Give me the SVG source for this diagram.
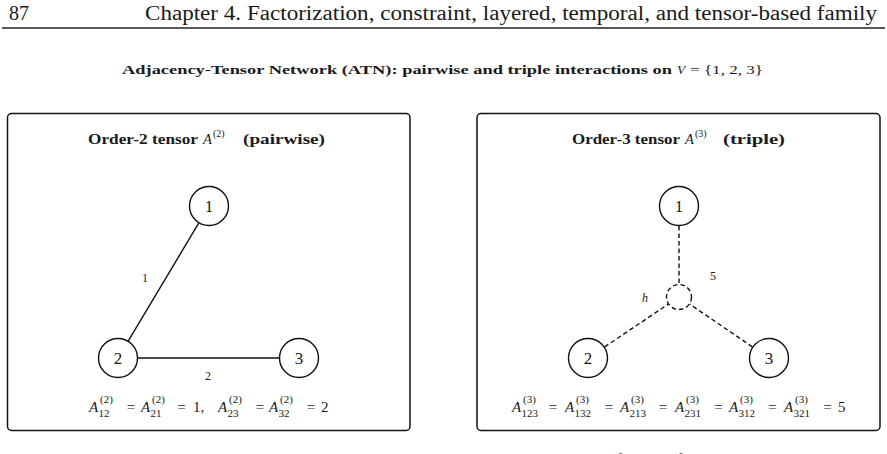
<svg xmlns="http://www.w3.org/2000/svg" width="887" height="454" viewBox="0 0 887 454">
<style>
text{font-family:"Liberation Serif","DejaVu Serif",serif;fill:#1a1a1a}
.hdr{font-size:20px}
.ttl{font-size:13px;font-weight:bold}
.bt{font-size:14.5px;font-weight:bold}
.it{font-style:italic}
.m{font-size:15px}
.s{font-size:11px}
.nl{font-size:17px;text-anchor:middle}
.el{font-size:12px;text-anchor:middle}
.eq{font-size:15px;text-anchor:middle}
.box{fill:none;stroke:#111;stroke-width:1.5}
.node{fill:#fff;stroke:#111;stroke-width:1.4}
.e{stroke:#111;stroke-width:1.4;fill:none}
.d{stroke:#111;stroke-width:1.4;fill:none;stroke-dasharray:4.5 3}
</style>
<rect width="887" height="454" fill="#fff"/>
<g id="header">
<text class="hdr" x="9" y="20">87</text>
<text class="hdr" x="145" y="20" textLength="732" lengthAdjust="spacingAndGlyphs">Chapter 4.  Factorization, constraint, layered, temporal, and tensor-based family</text>
<line x1="2" y1="28" x2="885" y2="28" stroke="#222" stroke-width="1.3"/>
</g>
<g id="title">
<text class="ttl" x="122" y="74" textLength="550" lengthAdjust="spacingAndGlyphs">Adjacency-Tensor Network (ATN): pairwise and triple interactions on</text>
<text class="it" x="677" y="74" font-size="13.5">V</text>
<text x="690" y="74" font-size="13.5" textLength="73" lengthAdjust="spacingAndGlyphs">= {1, 2, 3}</text>
</g>
<g id="panel-left">
<rect class="box" x="7.5" y="113.5" width="402.5" height="317" rx="4"/>
<text class="bt" x="88" y="144" textLength="110" lengthAdjust="spacingAndGlyphs">Order-2 tensor</text>
<text class="it" x="203" y="144" font-size="14.5">A</text>
<text x="213" y="137" font-size="10">(2)</text>
<text class="bt" x="243" y="144" textLength="82" lengthAdjust="spacingAndGlyphs">(pairwise)</text>
</g>
<g id="panel-right">
<rect class="box" x="477" y="113.5" width="403" height="317" rx="4"/>
<text class="bt" x="572" y="144" textLength="108" lengthAdjust="spacingAndGlyphs">Order-3 tensor</text>
<text class="it" x="685" y="144" font-size="14.5">A</text>
<text x="695" y="137" font-size="10">(3)</text>
<text class="bt" x="723" y="144" textLength="62" lengthAdjust="spacingAndGlyphs">(triple)</text>
</g>
<g id="connectors">
<line class="e" x1="198.7" y1="223.2" x2="128.3" y2="340.8"/>
<line class="e" x1="138" y1="358" x2="279" y2="358"/>
<line class="d" x1="679" y1="226" x2="679" y2="284"/>
<line class="d" x1="604.6" y1="346.9" x2="668.2" y2="304.2"/>
<line class="d" x1="752.4" y1="346.9" x2="689.8" y2="304.2"/>
<text class="el" x="145" y="282">1</text>
<text class="el" x="208" y="380">2</text>
<text class="el" x="713" y="280">5</text>
<text class="el it" x="645" y="302" font-size="13.5">h</text>
</g>
<g id="L1"><circle class="node" cx="209" cy="206" r="19.5"/><text class="nl" x="209" y="212">1</text></g>
<g id="L2"><circle class="node" cx="118" cy="358" r="19.5"/><text class="nl" x="118" y="364">2</text></g>
<g id="L3"><circle class="node" cx="299" cy="358" r="19.5"/><text class="nl" x="299" y="364">3</text></g>
<g id="R1"><circle class="node" cx="679" cy="206" r="19.5"/><text class="nl" x="679" y="212">1</text></g>
<g id="R2"><circle class="node" cx="588" cy="358" r="19.5"/><text class="nl" x="588" y="364">2</text></g>
<g id="R3"><circle class="node" cx="769" cy="358" r="19.5"/><text class="nl" x="769" y="364">3</text></g>
<g id="hub"><circle cx="679" cy="297" r="12.5" fill="#fff" class="d"/></g>
<g id="formula-left">
<text class="m it" x="89" y="412">A</text><text class="s" x="100" y="402.5">(2)</text><text class="s" x="98.5" y="417">12</text>
<text class="eq" x="131" y="412">=</text>
<text class="m it" x="141" y="412">A</text><text class="s" x="152" y="402.5">(2)</text><text class="s" x="150.5" y="417">21</text>
<text class="eq" x="181.5" y="412">=</text>
<text class="m" x="193" y="412">1,</text>
<text class="m it" x="218" y="412">A</text><text class="s" x="229" y="402.5">(2)</text><text class="s" x="227.5" y="417">23</text>
<text class="eq" x="260" y="412">=</text>
<text class="m it" x="269" y="412">A</text><text class="s" x="280" y="402.5">(2)</text><text class="s" x="278.5" y="417">32</text>
<text class="eq" x="311" y="412">=</text>
<text class="m" x="321" y="412">2</text>
</g>
<g id="formula-right">
<text class="m it" x="512" y="412">A</text><text class="s" x="523" y="402.5">(3)</text><text class="s" x="521.5" y="417">123</text>
<text class="eq" x="553" y="412">=</text>
<text class="m it" x="565" y="412">A</text><text class="s" x="576" y="402.5">(3)</text><text class="s" x="574.5" y="417">132</text>
<text class="eq" x="609" y="412">=</text>
<text class="m it" x="620" y="412">A</text><text class="s" x="631" y="402.5">(3)</text><text class="s" x="629.5" y="417">213</text>
<text class="eq" x="663" y="412">=</text>
<text class="m it" x="675" y="412">A</text><text class="s" x="686" y="402.5">(3)</text><text class="s" x="684.5" y="417">231</text>
<text class="eq" x="718.5" y="412">=</text>
<text class="m it" x="729" y="412">A</text><text class="s" x="740" y="402.5">(3)</text><text class="s" x="738.5" y="417">312</text>
<text class="eq" x="772.5" y="412">=</text>
<text class="m it" x="784" y="412">A</text><text class="s" x="795" y="402.5">(3)</text><text class="s" x="793.5" y="417">321</text>
<text class="eq" x="827.5" y="412">=</text>
<text class="m" x="838" y="412">5</text>
</g>
<g id="footer-fragment">
<text x="616" y="465" font-size="16">{</text>
<text x="678" y="465" font-size="16">}</text>
</g>
</svg>
